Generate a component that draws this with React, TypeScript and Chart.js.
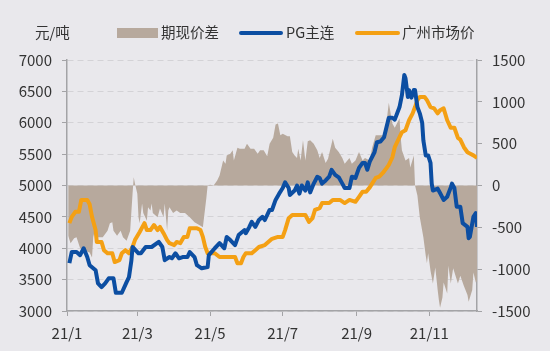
import { useEffect, useRef } from "react";
import { Chart, registerables } from "chart.js";

Chart.register(...registerables);

const UNIT_LABEL = "元/吨";
const SERIES_NAMES = ["期现价差", "PG主连", "广州市场价"];

const TICK_DAYS = [0, 59, 120, 181, 243, 304];
const TICK_LABELS = ["21/1", "21/3", "21/5", "21/7", "21/9", "21/11"];

const PG_DAYS = [2,4,8,11,14,17,19,24,26,29,32,35,39,41,46,50,52,54,55,60,62,66,71,77,80,82,86,88,91,94,97,101,103,107,109,113,118,119,124,128,132,134,137,141,144,149,150,153,155,158,161,164,166,170,172,175,178,181,183,186,187,191,193,195,197,200,202,204,207,210,212,214,217,220,222,225,228,231,233,237,239,242,245,248,250,252,254,258,260,263,266,270,273,275,279,281,283,284,286,287,289,291,292,294,296,298,299,301,303,305,306,307,311,313,316,319,322,323,325,327,330,332,336,337,338,341,343,344];
const PG_VALUES = [3764,3940,3940,3890,4000,3860,3730,3650,3440,3380,3440,3520,3520,3290,3290,3460,3540,3800,4020,3920,3920,4020,4020,4100,4020,3810,3860,3840,3920,3840,3860,3860,3940,3860,3730,3680,3700,3890,4000,4080,4000,4180,4130,4050,4210,4290,4240,4340,4420,4340,4450,4500,4450,4610,4610,4770,4870,4960,5050,4960,4850,4920,5000,4870,5000,4920,5050,4890,5030,5140,5120,5030,5080,5140,5250,5170,5130,5030,4960,4960,5140,5120,5280,5360,5360,5250,5380,5530,5690,5700,5770,6080,6080,6050,6250,6440,6760,6710,6410,6520,6400,6520,6520,6250,6150,6000,5720,5480,5480,5360,5030,4920,4950,4880,4770,4820,4970,5030,4960,4660,4660,4400,4340,4160,4180,4500,4560,4340];

const GZ_DAYS = [2,4,7,10,12,17,19,21,24,25,29,31,34,38,40,44,46,49,52,55,57,61,65,67,70,73,76,78,81,84,86,90,92,95,98,101,103,109,112,114,116,118,124,128,133,141,143,146,148,150,155,158,161,166,172,177,181,183,186,189,200,203,206,208,212,214,220,223,229,233,237,242,245,248,251,254,256,259,262,265,267,270,273,275,279,281,284,287,290,292,294,296,300,302,305,308,311,313,316,319,322,325,328,330,333,336,338,341,344];
const GZ_VALUES = [4400,4500,4580,4580,4770,4770,4700,4500,4290,4100,4100,3970,3920,3920,3780,3810,3920,3970,3920,4020,4130,4260,4400,4290,4290,4370,4290,4340,4240,4130,4080,4050,4100,4080,4180,4180,4320,4320,4290,4180,4020,3920,3920,3860,3860,3860,3760,3760,3860,3920,3920,3970,4020,4050,4150,4180,4180,4290,4480,4530,4530,4420,4480,4610,4640,4720,4720,4770,4770,4720,4770,4740,4820,4900,4900,4970,5030,5120,5140,5200,5250,5330,5450,5610,5770,5850,5880,6040,6150,6250,6360,6410,6410,6360,6250,6230,6150,6200,6230,6040,5920,5920,5760,5730,5610,5530,5510,5480,5440];

const SPREAD_DAYS = [1,3,6,8,11,15,19,21,22,24,25,30,34,36,38,39,42,45,47,50,53,55,56,57,59,60,61,63,64,67,68,70,71,72,76,78,81,82,84,85,86,89,92,95,99,103,107,112,114,117,118,120,123,126,128,131,133,134,137,139,140,143,145,149,151,154,157,160,162,165,168,170,173,175,177,179,181,185,187,189,191,193,194,196,198,200,202,204,207,210,212,214,217,219,223,225,228,231,233,237,239,242,245,248,250,254,256,259,262,265,267,270,273,275,279,280,281,284,287,288,291,292,294,296,299,301,302,303,305,307,309,311,312,313,315,316,319,320,322,324,328,330,333,336,337,340,341,343,344];
const SPREAD_VALUES = [-600,-690,-630,-620,-750,-780,-800,-860,-620,-500,-620,-620,-540,-450,-440,-540,-600,-540,-620,-660,-540,-100,100,25,-100,-380,-450,-215,-330,-420,-260,-300,-215,-330,-380,-275,-380,-215,-540,-300,-260,-330,-300,-330,-330,-380,-440,-480,-500,-140,0,10,0,60,120,300,260,360,380,420,300,450,440,440,500,440,440,380,420,420,350,500,570,730,740,600,620,590,590,400,360,330,440,300,540,300,530,540,500,420,330,400,270,320,560,450,400,330,260,330,260,300,400,300,330,300,450,600,600,600,630,990,740,690,800,570,420,300,330,215,360,0,-120,-380,-620,-840,-930,-810,-1020,-1170,-980,-1250,-1370,-1460,-1340,-1160,-1290,-960,-1170,-990,-1170,-1080,-1200,-1310,-1390,-1250,-1040,-1160,-1140];

const FONT = '"Noto Sans CJK SC", "Noto Sans", sans-serif';
const BG = "#e9e8ec";
const TEXT = "#333333";
const AXIS = "#a3a3a6";
const GRID = "#d3d2d6";
const BLUE = "#0c4ea2";
const ORANGE = "#f4a014";
const AREA = "#b7a99d";

const toPts = (d: number[], v: number[]) => d.map((x, i) => ({ x, y: v[i] }));

const bgPlugin = {
  id: "bg",
  beforeDraw(chart: any) {
    const ctx = chart.ctx;
    ctx.save();
    ctx.fillStyle = BG;
    ctx.fillRect(0, 0, chart.width, chart.height);
    ctx.restore();
  },
};

const legendPlugin = {
  id: "customLegend",
  afterDraw(chart: any) {
    const ctx = chart.ctx;
    ctx.save();
    ctx.font = `14.5px ${FONT}`;
    ctx.textBaseline = "middle";
    ctx.textAlign = "left";
    ctx.fillStyle = TEXT;
    ctx.fillText(UNIT_LABEL, 35, 32);
    ctx.fillStyle = AREA;
    ctx.fillRect(117, 28, 41, 10);
    ctx.fillStyle = TEXT;
    ctx.fillText(SERIES_NAMES[0], 161, 32);
    ctx.lineCap = "round";
    ctx.lineWidth = 4;
    ctx.strokeStyle = BLUE;
    ctx.beginPath();
    ctx.moveTo(241, 33);
    ctx.lineTo(281, 33);
    ctx.stroke();
    ctx.fillText(SERIES_NAMES[1], 286, 32);
    ctx.strokeStyle = ORANGE;
    ctx.beginPath();
    ctx.moveTo(357, 33);
    ctx.lineTo(398, 33);
    ctx.stroke();
    ctx.fillText(SERIES_NAMES[2], 402, 32);
    ctx.restore();
  },
};

export default function App() {
  const ref = useRef<HTMLCanvasElement | null>(null);
  useEffect(() => {
    document.body.style.margin = "0";
    document.body.style.background = BG;
    const canvas = ref.current;
    if (!canvas) return;
    const tickFont = { family: FONT, size: 15 };
    const chart = new Chart(canvas, {
      type: "line",
      data: {
        datasets: [
          {
            label: SERIES_NAMES[1],
            data: toPts(PG_DAYS, PG_VALUES),
            yAxisID: "y",
            borderColor: BLUE,
            borderWidth: 4,
            pointRadius: 0,
            tension: 0,
            fill: false,
            order: 0,
            borderJoinStyle: "round",
          },
          {
            label: SERIES_NAMES[2],
            data: toPts(GZ_DAYS, GZ_VALUES),
            yAxisID: "y",
            borderColor: ORANGE,
            borderWidth: 4,
            pointRadius: 0,
            tension: 0,
            fill: false,
            order: 1,
            borderJoinStyle: "round",
          },
          {
            label: SERIES_NAMES[0],
            data: toPts(SPREAD_DAYS, SPREAD_VALUES),
            yAxisID: "y1",
            borderWidth: 0,
            borderColor: AREA,
            backgroundColor: AREA,
            pointRadius: 0,
            tension: 0,
            fill: "origin",
            order: 2,
          },
        ] as any,
      },
      options: {
        responsive: false,
        animation: false,
        layout: { padding: { top: 60, left: 0, right: 0, bottom: 0 } },
        plugins: { legend: { display: false }, tooltip: { enabled: false } },
        scales: {
          x: {
            type: "linear",
            min: 0,
            max: 344,
            afterBuildTicks: (axis: any) => {
              axis.ticks = TICK_DAYS.map((v) => ({ value: v }));
            },
            afterFit: (s: any) => {
              s.height = 40;
            },
            ticks: {
              autoSkip: false,
              maxRotation: 0,
              padding: 8,
              color: TEXT,
              font: tickFont,
              callback: (v: any) => {
                const i = TICK_DAYS.indexOf(Number(v));
                return i >= 0 ? TICK_LABELS[i] : "";
              },
            },
            grid: { drawOnChartArea: false, drawTicks: true, tickLength: 5, tickColor: AXIS },
            border: { color: AXIS, width: 1.5 },
          },
          y: {
            position: "left",
            min: 3000,
            max: 7000,
            afterFit: (s: any) => {
              s.width = 67;
            },
            ticks: {
              stepSize: 500,
              padding: 10,
              color: TEXT,
              font: tickFont,
              callback: (v: any) => String(v),
            },
            grid: { color: GRID, tickColor: AXIS, tickLength: 5, lineWidth: 1 },
            border: { color: AXIS, width: 1.5, dash: [6, 4] },
          },
          y1: {
            position: "right",
            min: -1500,
            max: 1500,
            afterFit: (s: any) => {
              s.width = 73;
            },
            ticks: {
              stepSize: 500,
              padding: 10,
              color: TEXT,
              font: tickFont,
              callback: (v: any) => String(v),
            },
            grid: { drawOnChartArea: false, tickColor: AXIS, tickLength: 5 },
            border: { color: AXIS, width: 1.5 },
          },
        },
      } as any,
      plugins: [bgPlugin, legendPlugin],
    });
    return () => chart.destroy();
  }, []);
  return (
    <div style={{ position: "absolute", left: 0, top: 0, width: 550, height: 351, background: BG }}>
      <canvas ref={ref} width={550} height={351} style={{ display: "block" }} />
    </div>
  );
}
